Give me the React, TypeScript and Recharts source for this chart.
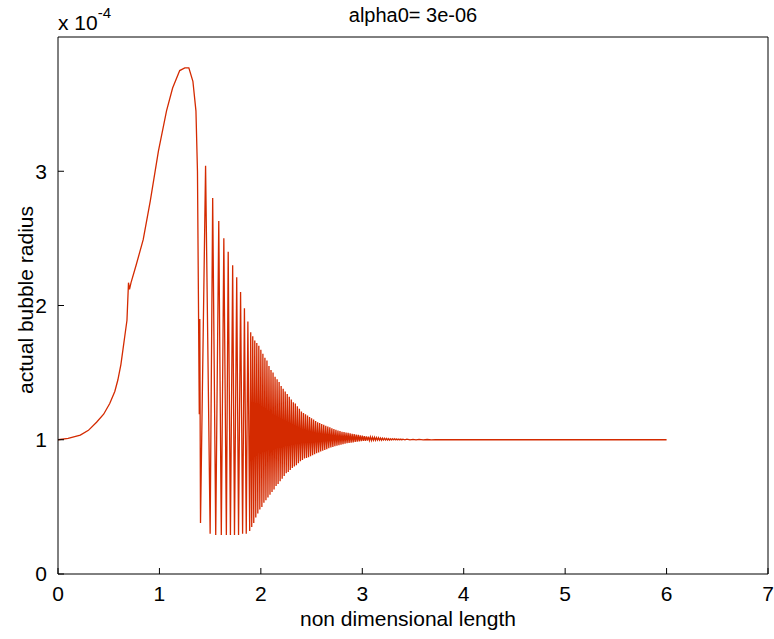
import { LineChart, Line, XAxis, YAxis, ReferenceLine } from "recharts";

// smooth growth of the bubble up to the first collapse
const growthX = [0, 0.1, 0.22, 0.3, 0.38, 0.45, 0.51, 0.56, 0.59, 0.62, 0.64, 0.66, 0.68, 0.695, 0.705, 0.72, 0.77, 0.84, 0.91, 0.99, 1.07, 1.13, 1.2, 1.25, 1.29, 1.33, 1.36, 1.375, 1.385, 1.393, 1.398];
const growthR = [1.0, 1.01, 1.035, 1.07, 1.13, 1.19, 1.27, 1.36, 1.445, 1.56, 1.67, 1.78, 1.89, 2.17, 2.12, 2.17, 2.3, 2.49, 2.78, 3.15, 3.45, 3.62, 3.75, 3.77, 3.77, 3.67, 3.45, 3.0, 2.0, 1.19, 1.9];

// rebound oscillations: one trough and one peak per cycle
const troughX = [
  1.405, 1.5, 1.555, 1.61, 1.66, 1.7, 1.74, 1.78, 1.82, 1.856,
  1.89, 1.91, 1.93, 1.95, 1.97, 1.99, 2.01, 2.03, 2.05, 2.07,
  2.09, 2.11, 2.13, 2.15, 2.17, 2.19, 2.21, 2.23, 2.25, 2.27,
  2.29, 2.31, 2.33, 2.35, 2.37, 2.39, 2.41, 2.43, 2.45, 2.47,
  2.49, 2.51, 2.53, 2.55, 2.57, 2.59, 2.61, 2.63, 2.65, 2.67,
  2.69, 2.71, 2.73, 2.75, 2.77, 2.79, 2.81, 2.83, 2.85, 2.87,
  2.89, 2.91, 2.93, 2.95, 2.97, 2.99, 3.01, 3.03, 3.05, 3.07,
  3.09, 3.11, 3.13, 3.15, 3.17, 3.19, 3.21, 3.23, 3.25, 3.27,
  3.29, 3.31, 3.33, 3.35, 3.37, 3.39,
];
const troughR = [
  0.38, 0.3, 0.29, 0.29, 0.29, 0.29, 0.29, 0.29, 0.3, 0.3,
  0.32, 0.35, 0.38, 0.42, 0.45, 0.48, 0.5, 0.53, 0.55, 0.57,
  0.59, 0.61, 0.63, 0.655, 0.67, 0.69, 0.71, 0.73, 0.75, 0.76,
  0.775, 0.79, 0.8, 0.81, 0.825, 0.84, 0.85, 0.86, 0.865, 0.87,
  0.878, 0.885, 0.892, 0.9, 0.906, 0.912, 0.918, 0.924, 0.93, 0.936,
  0.942, 0.947, 0.951, 0.955, 0.959, 0.963, 0.967, 0.971, 0.975, 0.977,
  0.979, 0.981, 0.984, 0.986, 0.988, 0.99, 0.991, 0.992, 0.993, 0.994,
  0.995, 0.996, 0.996, 0.997, 0.997, 0.997, 0.998, 0.998, 0.998, 0.998,
  0.999, 0.999, 0.999, 0.999, 0.999, 0.999,
];
const peakX = [
  1.455, 1.525, 1.585, 1.635, 1.678, 1.722, 1.762, 1.8, 1.838, 1.872,
  1.9, 1.92, 1.94, 1.96, 1.98, 2.0, 2.02, 2.04, 2.06, 2.08,
  2.1, 2.12, 2.14, 2.16, 2.18, 2.2, 2.22, 2.24, 2.26, 2.28,
  2.3, 2.32, 2.34, 2.36, 2.38, 2.4, 2.42, 2.44, 2.46, 2.48,
  2.5, 2.52, 2.54, 2.56, 2.58, 2.6, 2.62, 2.64, 2.66, 2.68,
  2.7, 2.72, 2.74, 2.76, 2.78, 2.8, 2.82, 2.84, 2.86, 2.88,
  2.9, 2.92, 2.94, 2.96, 2.98, 3.0, 3.02, 3.04, 3.06, 3.08,
  3.1, 3.12, 3.14, 3.16, 3.18, 3.2, 3.22, 3.24, 3.26, 3.28,
  3.3, 3.32, 3.34, 3.36, 3.38, 3.4,
];
const peakR = [
  3.04, 2.8, 2.63, 2.5, 2.4, 2.3, 2.21, 2.1, 1.98, 1.88,
  1.8, 1.77, 1.74, 1.72, 1.7, 1.67, 1.64, 1.61, 1.59, 1.55,
  1.52, 1.5, 1.47, 1.45, 1.43, 1.4, 1.38, 1.36, 1.34, 1.32,
  1.3, 1.28, 1.27, 1.25, 1.23, 1.21, 1.2, 1.19, 1.18, 1.17,
  1.16, 1.15, 1.14, 1.13, 1.125, 1.118, 1.111, 1.104, 1.098, 1.092,
  1.085, 1.08, 1.074, 1.069, 1.065, 1.06, 1.057, 1.054, 1.051, 1.048,
  1.045, 1.042, 1.039, 1.036, 1.033, 1.03, 1.027, 1.025, 1.023, 1.021,
  1.019, 1.018, 1.016, 1.015, 1.013, 1.012, 1.011, 1.01, 1.009, 1.008,
  1.008, 1.007, 1.006, 1.005, 1.005, 1.004,
];

// settling to the equilibrium radius
const tailX = [3.42, 3.44, 3.47, 3.5, 3.53, 3.56, 3.6, 3.64, 3.68, 3.72, 3.8, 6.0];
const tailR = [0.999, 1.004, 0.999, 1.003, 0.999, 1.003, 0.999, 1.002, 0.999, 1.001, 1.0, 1.0];

const xTicks = [0, 1, 2, 3, 4, 5, 6, 7];
const yTicks = [0, 1, 2, 3];

const data = [
  ...growthX.map((x, i) => ({ x, r: growthR[i] })),
  ...troughX.flatMap((x, i) => [
    { x, r: troughR[i] },
    { x: peakX[i], r: peakR[i] },
  ]),
  ...tailX.map((x, i) => ({ x, r: tailR[i] })),
];

const FONT = '"Liberation Sans", Arial, Helvetica, sans-serif';
const tickStyle = { fontSize: 21, fontFamily: FONT, fill: "#000" };
const black = { stroke: "#000" };

export default function App() {
  return (
    <div style={{ position: "absolute", left: 0, top: 0, width: 774, height: 639, background: "#fff" }}>
      <LineChart
        width={774}
        height={639}
        data={data}
        margin={{ top: 37, right: 6, bottom: 35, left: 8 }}
      >
        <XAxis
          type="number"
          dataKey="x"
          domain={[0, 7]}
          ticks={xTicks}
          height={30}
          tickSize={-6}
          tickMargin={18}
          tick={tickStyle}
          tickLine={black}
          axisLine={black}
          allowDataOverflow
        />
        <XAxis
          xAxisId="top"
          orientation="top"
          type="number"
          dataKey="x"
          domain={[0, 7]}
          ticks={xTicks}
          height={0}
          tickSize={-6}
          tick={false}
          tickLine={black}
          axisLine={black}
          allowDataOverflow
        />
        <YAxis
          type="number"
          domain={[0, 4]}
          ticks={yTicks}
          width={50}
          tickSize={-6}
          tickMargin={17}
          tick={tickStyle}
          tickLine={black}
          axisLine={black}
          allowDataOverflow
        />
        <YAxis
          yAxisId="right"
          orientation="right"
          type="number"
          domain={[0, 4]}
          ticks={yTicks}
          width={0}
          tickSize={-6}
          tick={false}
          tickLine={black}
          axisLine={black}
          allowDataOverflow
        />
        <ReferenceLine y={4} stroke="#000" />
        <ReferenceLine x={7} stroke="#000" />
        {/* invisible copy bound to the top/right axes so their tick marks are drawn */}
        <Line
          xAxisId="top"
          yAxisId="right"
          type="linear"
          dataKey="r"
          stroke="none"
          dot={false}
          activeDot={false}
          legendType="none"
          isAnimationActive={false}
        />
        <Line
          type="linear"
          dataKey="r"
          stroke="#d42a00"
          strokeWidth={1.3}
          dot={false}
          isAnimationActive={false}
        />
      </LineChart>
      <svg
        width={774}
        height={639}
        style={{ position: "absolute", left: 0, top: 0, pointerEvents: "none" }}
      >
        <text x={413} y={22} textAnchor="middle" fontSize={20} fontFamily={FONT} fill="#000">
          alpha0= 3e-06
        </text>
        <text x={58} y={30} fontSize={21} fontFamily={FONT} fill="#000">
          x 10
          <tspan dy={-12} fontSize={15}>-4</tspan>
        </text>
        <text x={408} y={626} textAnchor="middle" fontSize={21} fontFamily={FONT} fill="#000">
          non dimensional length
        </text>
        <text
          x={33}
          y={300}
          textAnchor="middle"
          fontSize={21}
          fontFamily={FONT}
          fill="#000"
          transform="rotate(-90 33 300)"
        >
          actual bubble radius
        </text>
      </svg>
    </div>
  );
}
